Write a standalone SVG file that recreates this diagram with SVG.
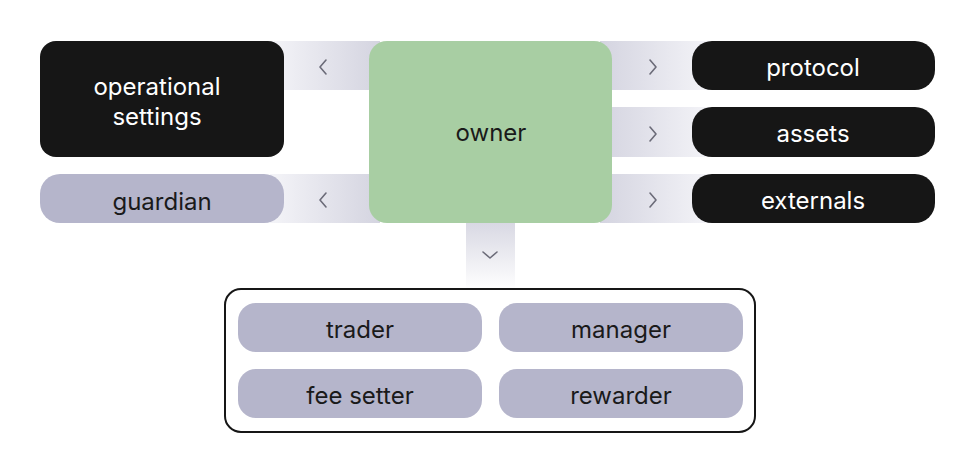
<svg xmlns="http://www.w3.org/2000/svg" width="976" height="473" viewBox="0 0 976 473">
<style>
text{font-family:Inter,"Noto Sans",sans-serif;font-size:24px;text-anchor:middle;dominant-baseline:central}
.dark{fill:#161616}.dark+text,.w{fill:#fff}
.lav{fill:#b5b5cb}
.t{fill:#1a1a1a}
.chev{fill:none;stroke:#6b6b78;stroke-width:1.6;stroke-linecap:round;stroke-linejoin:round}
</style>
<defs>
<linearGradient id="gl" x1="0" x2="1" y1="0" y2="0"><stop offset="0" stop-color="#f4f4f8"/><stop offset="1" stop-color="#d4d4e0"/></linearGradient>
<linearGradient id="gr" x1="0" x2="1" y1="0" y2="0"><stop offset="0" stop-color="#d4d4e0"/><stop offset="1" stop-color="#f4f4f8"/></linearGradient>
<linearGradient id="gd" x1="0" x2="0" y1="0" y2="1"><stop offset="0" stop-color="#d4d4e0"/><stop offset="1" stop-color="#ffffff"/></linearGradient>
</defs>
<g id="connectors">
<rect x="270" y="41" width="110" height="49" fill="url(#gl)"/>
<path class="chev" d="M326 60 L320 67 L326 74"/>
<rect x="270" y="174" width="110" height="49" fill="url(#gl)"/>
<path class="chev" d="M326 193 L320 200 L326 207"/>
<rect x="600" y="41" width="110" height="49" fill="url(#gr)"/>
<path class="chev" d="M650 60 L656 67 L650 74"/>
<rect x="600" y="107" width="110" height="50" fill="url(#gr)"/>
<path class="chev" d="M650 127 L656 134 L650 141"/>
<rect x="600" y="174" width="110" height="49" fill="url(#gr)"/>
<path class="chev" d="M650 193 L656 200 L650 207"/>
<rect x="466" y="215" width="49" height="75" fill="url(#gd)"/>
<path class="chev" d="M483 252 L490 258 L497 252"/>
</g>
<g id="owner"><rect x="369" y="41" width="243" height="182" rx="18" fill="#a8cea3"/><text class="t" x="491" y="132">owner</text></g>
<g id="operational-settings"><rect class="dark" x="40" y="41" width="244" height="116" rx="16"/><text class="w" x="157" y="86">operational</text><text class="w" x="157" y="116">settings</text></g>
<g id="guardian"><rect class="lav" x="40" y="174" width="244" height="49" rx="20"/><text class="t" x="162" y="201">guardian</text></g>
<g id="protocol"><rect class="dark" x="692" y="41" width="243" height="49" rx="20"/><text class="w" x="813" y="67">protocol</text></g>
<g id="assets"><rect class="dark" x="692" y="107" width="243" height="50" rx="20"/><text class="w" x="813" y="133">assets</text></g>
<g id="externals"><rect class="dark" x="692" y="174" width="243" height="49" rx="20"/><text class="w" x="813" y="200">externals</text></g>
<g id="roles"><rect x="225" y="289" width="530" height="143" rx="16" fill="#fff" stroke="#161616" stroke-width="2"/></g>
<g id="trader"><rect class="lav" x="238" y="303" width="244" height="49" rx="18"/><text class="t" x="360" y="329">trader</text></g>
<g id="manager"><rect class="lav" x="499" y="303" width="244" height="49" rx="18"/><text class="t" x="621" y="329">manager</text></g>
<g id="fee-setter"><rect class="lav" x="238" y="369" width="244" height="49" rx="18"/><text class="t" x="360" y="395">fee setter</text></g>
<g id="rewarder"><rect class="lav" x="499" y="369" width="244" height="49" rx="18"/><text class="t" x="621" y="395">rewarder</text></g>
</svg>
